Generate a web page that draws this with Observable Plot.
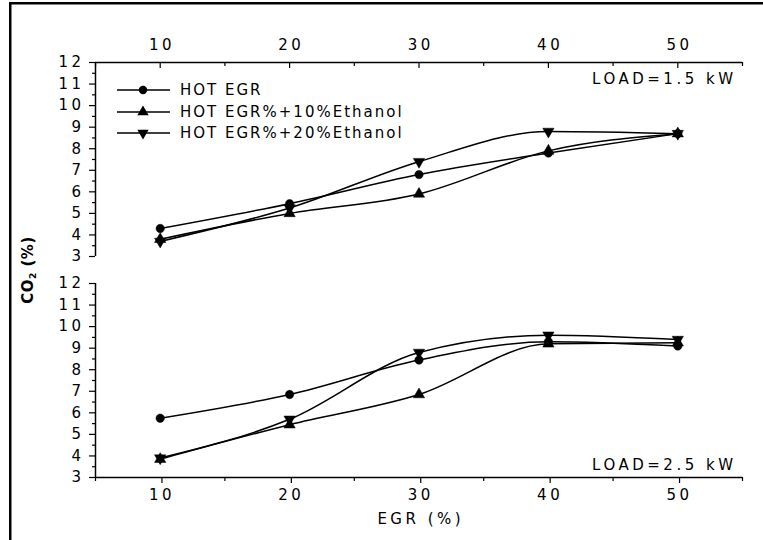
<!DOCTYPE html>
<html>
<head>
<meta charset="utf-8">
<script src="https://cdn.jsdelivr.net/npm/d3@7"></script>
<script src="https://cdn.jsdelivr.net/npm/@observablehq/plot@0.6"></script>
<style>
  html, body { margin: 0; padding: 0; background: white; }
  #chart { position: relative; width: 763px; height: 540px; }
</style>
</head>
<body>
<div id="chart"></div>
<script>
// ---- data ----
const egr = [10, 20, 30, 40, 50];
const seriesNames = ["HOT EGR", "HOT EGR%+10%Ethanol", "HOT EGR%+20%Ethanol"];
const loads = ["LOAD=1.5 kW", "LOAD=2.5 kW"];
// LOAD = 1.5 kW
const co2Load15Hot   = [4.3, 5.45, 6.8, 7.8, 8.7];
const co2Load15Eth10 = [3.8, 5.0, 5.9, 7.9, 8.7];
const co2Load15Eth20 = [3.7, 5.25, 7.4, 8.8, 8.7];
// LOAD = 2.5 kW
const co2Load25Hot   = [5.75, 6.85, 8.45, 9.3, 9.1];
const co2Load25Eth10 = [3.85, 5.45, 6.85, 9.2, 9.25];
const co2Load25Eth20 = [3.9, 5.7, 8.8, 9.6, 9.4];
// ticks
const xMajor = [10, 20, 30, 40, 50];
const xMinor = [5, 15, 25, 35, 45, 55];
const yMajor = [3, 4, 5, 6, 7, 8, 9, 10, 11, 12];
const yMinor = [3.5, 4.5, 5.5, 6.5, 7.5, 8.5, 9.5, 10.5, 11.5];
const xLabel = "EGR (%)";

const table = [
  [loads[0], [co2Load15Hot, co2Load15Eth10, co2Load15Eth20]],
  [loads[1], [co2Load25Hot, co2Load25Eth10, co2Load25Eth20]]
];
const rows = [];
for (const [load, sets] of table) {
  sets.forEach((vals, si) => {
    vals.forEach((v, i) => rows.push({load, series: seriesNames[si], egr: egr[i], co2: v}));
  });
}

const triangleDown = {
  draw(ctx, size) {
    const y = Math.sqrt(size / (Math.sqrt(3) * 3));
    ctx.moveTo(0, 2 * y);
    ctx.lineTo(Math.sqrt(3) * y, -y);
    ctx.lineTo(-Math.sqrt(3) * y, -y);
    ctx.closePath();
  }
};
const symbols = [d3.symbolCircle, d3.symbolTriangle, triangleDown];
const LS = 3.5;

const plot = Plot.plot({
  width: 763,
  height: 540,
  marginTop: 61,
  marginBottom: 62,
  marginLeft: 95,
  marginRight: 21,
  style: {fontFamily: "DejaVu Sans, sans-serif", fontSize: "15px", background: "white", color: "black", letterSpacing: LS + "px"},
  x: {domain: [5, 55], axis: null},
  y: {domain: [3, 12], axis: null},
  fy: {domain: loads, axis: null, paddingInner: 0.1216, paddingOuter: 0},
  symbol: {domain: seriesNames, range: symbols},
  marks: [
    // axis lines
    Plot.ruleX([5], {x: d => d, stroke: "black", strokeWidth: 1.5}),
    Plot.ruleY([12], {y: d => d, fy: () => loads[0], stroke: "black", strokeWidth: 1.5}),
    Plot.ruleY([3], {y: d => d, fy: () => loads[1], stroke: "black", strokeWidth: 1.5}),
    // y axes (both panels)
    Plot.axisY({ticks: yMajor, tickSize: 6, tickPadding: 5, strokeWidth: 1.2, label: null}),
    Plot.axisY({ticks: yMinor, tickSize: 3, tickFormat: () => "", strokeWidth: 1.2, label: null}),
    // top axis (top panel), inward ticks
    Plot.axisX({anchor: "top", ticks: xMajor, tickSize: 0, tickPadding: 13, dx: LS / 2, label: null}),
    Plot.ruleX(xMajor, {x: d => d, y1: () => 12, y2: () => 12, insetTop: 6, insetBottom: 0, fy: () => loads[0], stroke: "black", strokeWidth: 1.2}),
    Plot.ruleX(xMinor, {x: d => d, y1: () => 12, y2: () => 12, insetTop: 4, insetBottom: 0, fy: () => loads[0], stroke: "black", strokeWidth: 1.2}),
    // bottom axis (bottom panel)
    Plot.axisX({anchor: "bottom", ticks: xMajor, tickSize: 6, tickPadding: 6, dx: LS / 2, strokeWidth: 1.2, label: null}),
    Plot.axisX({anchor: "bottom", ticks: xMinor, tickSize: 4, tickFormat: () => "", strokeWidth: 1.2, label: null}),
    // data
    Plot.line(rows, {x: "egr", y: "co2", z: "series", fy: "load", curve: "monotone-x", stroke: "black", strokeWidth: 1.5}),
    Plot.dot(rows, {x: "egr", y: "co2", fy: "load", symbol: "series", fill: "black", stroke: "black", strokeWidth: 0.5, r: 4.2}),
    // panel labels
    Plot.text([loads[0]], {text: d => d, fy: d => d, frameAnchor: "top-right", dx: -6, dy: 11, fontSize: 15}),
    Plot.text([loads[1]], {text: d => d, fy: d => d, frameAnchor: "bottom-right", dx: -6, dy: -8, fontSize: 15}),
    Plot.text([xLabel], {text: d => d, fy: () => loads[1], frameAnchor: "bottom", lineAnchor: "middle", dy: 42, dx: LS / 2, fontSize: 15})
  ]
});

document.getElementById("chart").appendChild(plot);
const svg = d3.select(plot);

// frame border of the figure (left and top)
svg.append("rect").attr("x", 9).attr("y", 2).attr("width", 2.5).attr("height", 540).attr("fill", "black");
svg.append("rect").attr("x", 9).attr("y", 2).attr("width", 760).attr("height", 2.5).attr("fill", "black");

// y-axis title
const yt = svg.append("text")
  .attr("transform", "translate(33,270) rotate(-90)")
  .attr("text-anchor", "middle")
  .style("font-family", "DejaVu Sans, sans-serif")
  .style("font-weight", "bold")
  .style("font-size", "15px")
  .style("letter-spacing", "0.5px")
  .attr("fill", "black");
yt.append("tspan").text("CO");
yt.append("tspan").attr("font-size", "9px").attr("dy", 3).text("2");
yt.append("tspan").attr("dy", -3).text(" (%)");

// legend inside top panel
const leg = svg.append("g");
const legY = [90, 112, 133];
seriesNames.forEach((name, i) => {
  const g = leg.append("g").attr("transform", `translate(0,${legY[i]})`);
  g.append("line").attr("x1", 117).attr("x2", 170).attr("y1", 0).attr("y2", 0)
    .attr("stroke", "black").attr("stroke-width", 1.5);
  g.append("path").attr("transform", "translate(143,0)")
    .attr("d", d3.symbol(symbols[i], Math.PI * 4.2 * 4.2)()).attr("fill", "black");
  g.append("text").attr("x", 180).attr("y", 0).attr("dy", "0.36em")
    .attr("text-anchor", "start")
    .style("font-family", "DejaVu Sans, sans-serif").style("font-size", "15px")
    .style("letter-spacing", "2px").attr("fill", "black").text(name);
});
</script>
</body>
</html>
